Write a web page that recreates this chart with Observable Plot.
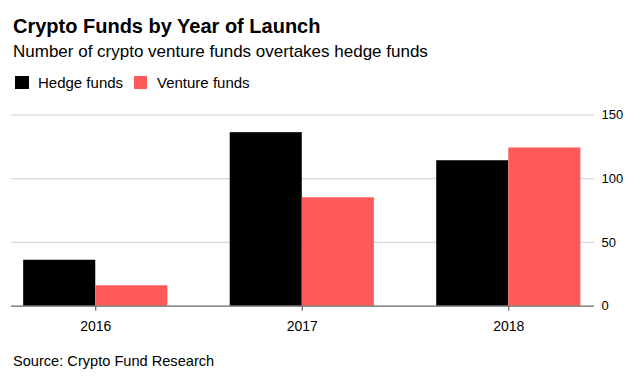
<!DOCTYPE html>
<html>
<head>
<meta charset="utf-8">
<script src="https://cdn.jsdelivr.net/npm/d3@7"></script>
<script src="https://cdn.jsdelivr.net/npm/@observablehq/plot@0.6"></script>
<style>
  html, body { margin: 0; padding: 0; background: #fff; }
  body { font-family: "Liberation Sans", Arial, Helvetica, sans-serif; color: #000; }
  #wrap { position: relative; width: 640px; height: 376px; overflow: hidden; }
  .t { position: absolute; left: 13px; line-height: 1; white-space: nowrap; }
  #title { top: 16.4px; font-size: 20px; font-weight: bold; }
  #subtitle { top: 42.9px; font-size: 17px; }
  #caption { top: 353.6px; font-size: 14.6px; }
  #legend { position: absolute; top: 74.6px; left: 15px; font-size: 15px; line-height: 1; white-space: nowrap; }
  .sw { position: absolute; width: 13.5px; height: 13px; top: 1.4px; }
  .lt { position: absolute; top: 0; }
  #chart { position: absolute; left: 0; top: 100px; }
  #chart svg { overflow: visible; }
  #chart [aria-label^="y-axis"] text { font-size: 13px; }
  #chart [aria-label^="x-axis"] text { font-size: 14px; }
  #chart [aria-label^="x-axis"] path, #chart [aria-label^="x-axis"] line { stroke: #444; }
</style>
</head>
<body>
<div id="wrap">
  <div id="title" class="t">Crypto Funds by Year of Launch</div>
  <div id="subtitle" class="t">Number of crypto venture funds overtakes hedge funds</div>
  <div id="legend"></div>
  <div id="chart"></div>
  <div id="caption" class="t">Source: Crypto Fund Research</div>
</div>
<script>
// ---- data ----
const years = [2016, 2017, 2018];
const seriesNames = ["Hedge funds", "Venture funds"];
const hedgeFunds = [36, 136, 114];
const ventureFunds = [16, 85, 124];
const seriesColors = ["#000000", "#ff5a5a"];
const yTicks = [0, 50, 100, 150];

// table for the library
const rows = [];
years.forEach((yr, i) => {
  rows.push({year: yr, series: seriesNames[0], value: hedgeFunds[i], side: -1});
  rows.push({year: yr, series: seriesNames[1], value: ventureFunds[i], side: 1});
});
const barWidth = 0.349; // in year units

// legend
const legend = document.getElementById("legend");
const legendX = [[0, 23], [118.5, 142]];
seriesNames.forEach((name, i) => {
  const sw = document.createElement("div");
  sw.className = "sw";
  sw.style.left = legendX[i][0] + "px";
  sw.style.background = seriesColors[i];
  legend.appendChild(sw);
  const lt = document.createElement("div");
  lt.className = "lt";
  lt.style.left = legendX[i][1] + "px";
  lt.textContent = name;
  legend.appendChild(lt);
});

const chart = Plot.plot({
  width: 640,
  height: 240,
  marginTop: 14.3,
  marginBottom: 34.3,
  marginLeft: 11,
  marginRight: 46,
  style: {fontFamily: '"Liberation Sans", Arial, sans-serif', fontSize: "13px", color: "#000", background: "transparent"},
  x: {type: "linear", domain: [2015.592, 2018.415], ticks: years, tickFormat: "d", tickSize: 5, tickPadding: 10, label: null},
  y: {domain: [0, 150], ticks: yTicks, axis: "right", tickSize: 0, tickPadding: 7, label: null},
  color: {domain: seriesNames, range: seriesColors},
  marks: [
    Plot.ruleY(yTicks.filter(t => t > 0), {stroke: "#d8d8d8", strokeWidth: 1.2}),
    Plot.rectY(rows, {
      x1: d => d.side < 0 ? d.year - barWidth : d.year,
      x2: d => d.side < 0 ? d.year : d.year + barWidth,
      y1: 0,
      y2: "value",
      fill: "series"
    }),
    Plot.ruleY([0], {stroke: "#666", strokeWidth: 1.2})
  ]
});
document.getElementById("chart").appendChild(chart);
</script>
</body>
</html>
